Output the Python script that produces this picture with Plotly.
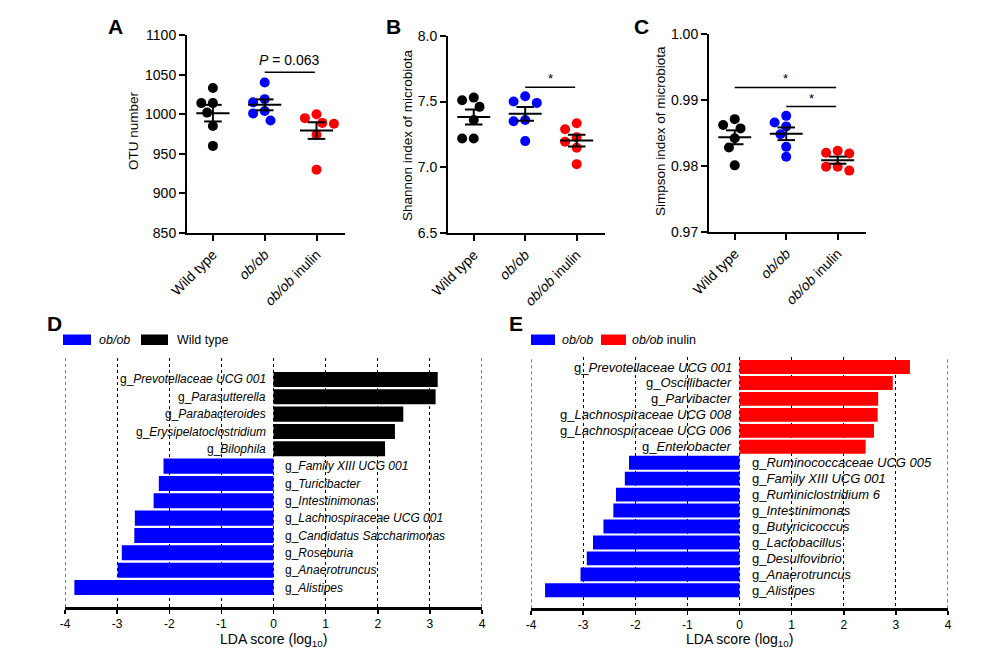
import numpy as np
import plotly.graph_objects as go

W, H = 997, 652
FONT = "Liberation Sans, Arial, sans-serif"

# ---------------- data: panels A-C ----------------
groups = ["Wild type", "<i>ob/ob</i>", "<i>ob/ob</i> inulin"]
group_colors = ["#000000", "#0000FF", "#FF0000"]

otu_wild = [1033, 1014, 1014, 1002, 985, 960]
otu_ob = [1040, 1019, 1015, 1004, 1001, 992]
otu_inulin = [1000, 995, 989, 988, 974, 930]

shannon_wild = [7.53, 7.51, 7.46, 7.36, 7.22, 7.22]
shannon_ob = [7.54, 7.50, 7.49, 7.36, 7.35, 7.20]
shannon_inulin = [7.335, 7.29, 7.23, 7.195, 7.15, 7.025]

simpson_wild = [0.9871, 0.9862, 0.9857, 0.9842, 0.9828, 0.9801]
simpson_ob = [0.9876, 0.9866, 0.9860, 0.9848, 0.9829, 0.9814]
simpson_inulin = [0.9823, 0.9820, 0.9819, 0.9799, 0.9799, 0.9793]

y_titles = ["OTU number", "Shannon index of microbiota", "Simpson index of microbiota"]

# significance brackets
sig_panel = [1, 2, 3, 3]
sig_from = [1, 1, 0, 1]
sig_to = [1.97, 1.97, 1.97, 1.97]
sig_level = [1053, 7.608, 0.9919, 0.9890]
sig_text = ["<i>P</i> = 0.063", "*", "*", "*"]

# ---------------- data: panels D-E ----------------
d_names_wt = ["Prevotellaceae UCG 001", "Parasutterella", "Parabacteroides",
              "Erysipelatoclostridium", "Bilophila"]
d_lda_wt = [3.15, 3.11, 2.49, 2.33, 2.14]
d_names_ob = ["Family XIII UCG 001", "Turicibacter", "Intestinimonas",
              "Lachnospiraceae UCG 001", "Candidatus Saccharimonas", "Roseburia",
              "Anaerotruncus", "Alistipes"]
d_lda_ob = [-2.11, -2.20, -2.30, -2.66, -2.67, -2.91, -2.99, -3.82]

e_names_in = ["Prevotellaceae UCG 001", "Oscillibacter", "Parvibacter",
              "Lachnospiraceae UCG 008", "Lachnospiraceae UCG 006", "Enterobacter"]
e_lda_in = [3.27, 2.94, 2.66, 2.65, 2.58, 2.42]
e_names_ob = ["Ruminococcaceae UCG 005", "Family XIII UCG 001", "Ruminiclostridium 6",
              "Intestinimonas", "Butyricicoccus", "Lactobacillus", "Desulfovibrio",
              "Anaerotruncus", "Alistipes"]
e_lda_ob = [-2.12, -2.20, -2.37, -2.42, -2.61, -2.81, -2.93, -3.05, -3.73]

lda_ticks = [-4, -3, -2, -1, 0, 1, 2, 3, 4]
lda_ticktext = ["-4", "-3", "-2", "-1", "0", "1", "2", "3", "4"]


def px(x):
    return x / W


def py(y):
    return 1 - y / H


def swarm(vals, ypu, xpu, d=9.6, step=5.8):
    """Deterministic beeswarm offsets (category units) from the values."""
    order = sorted(range(len(vals)), key=lambda i: -vals[i])
    placed = []
    offs = [0.0] * len(vals)
    cands = [0.0]
    for k in range(1, 6):
        cands += [-k * step, k * step]
    for i in order:
        y = vals[i] * ypu
        for c in cands:
            if all((c - a) ** 2 + (y - b) ** 2 >= d * d - 1e-6 for a, b in placed):
                break
        placed.append((c, y))
        offs[i] = c / xpu
    return offs


fig = go.Figure()

dot_panels = [
    dict(x=(187, 345), y=(35, 233), rng=(850, 1100), dt=50, fmt="d",
         data=[otu_wild, otu_ob, otu_inulin], title_x=133, title_y=131),
    dict(x=(448, 605), y=(35.7, 233.3), rng=(6.5, 8.0), dt=0.5, fmt=".1f",
         data=[shannon_wild, shannon_ob, shannon_inulin], title_x=407, title_y=135),
    dict(x=(709, 866), y=(34, 232), rng=(0.97, 1.00), dt=0.01, fmt=".2f",
         data=[simpson_wild, simpson_ob, simpson_inulin], title_x=660, title_y=131),
]

annotations = []
shapes = []
layout_axes = {}

for p_i, p in enumerate(dot_panels, start=1):
    xa = "x" if p_i == 1 else f"x{p_i}"
    ya = "y" if p_i == 1 else f"y{p_i}"
    xrange = (-0.5, 2.55)
    xpu = (p["x"][1] - p["x"][0]) / (xrange[1] - xrange[0])
    ypu = (p["y"][1] - p["y"][0]) / (p["rng"][1] - p["rng"][0])
    for g, (vals, col) in enumerate(zip(p["data"], group_colors)):
        offs = swarm(vals, ypu, xpu)
        fig.add_trace(go.Scatter(
            x=[g + o for o in offs], y=vals, mode="markers",
            marker=dict(size=10, color=col, line=dict(width=0)),
            xaxis=xa, yaxis=ya, showlegend=False, hoverinfo="skip"))
    for g, vals in enumerate(p["data"]):
        arr = np.array(vals, dtype=float)
        m = arr.mean()
        s = arr.std(ddof=1) / np.sqrt(len(arr))
        fig.add_trace(go.Scatter(
            x=[g - 0.32, g + 0.32, None, g - 0.17, g + 0.17, None,
               g - 0.17, g + 0.17, None, g, g],
            y=[m, m, None, m + s, m + s, None, m - s, m - s, None, m - s, m + s],
            mode="lines", line=dict(color="black", width=2),
            xaxis=xa, yaxis=ya, showlegend=False, hoverinfo="skip"))
    key_x = "xaxis" if p_i == 1 else f"xaxis{p_i}"
    key_y = "yaxis" if p_i == 1 else f"yaxis{p_i}"
    layout_axes[key_x] = dict(
        domain=[px(p["x"][0]), px(p["x"][1])], range=list(xrange), anchor=ya,
        tickvals=[0, 1, 2], ticktext=groups, tickangle=-45, automargin=False,
        showline=True, linecolor="black", linewidth=2, ticks="outside",
        ticklen=6, tickwidth=2, tickcolor="black", showgrid=False, zeroline=False,
        tickfont=dict(size=14, color="black", family=FONT), fixedrange=True)
    layout_axes[key_y] = dict(
        domain=[py(p["y"][1]), py(p["y"][0])], range=list(p["rng"]), anchor=xa,
        dtick=p["dt"], tick0=p["rng"][0], tickformat=p["fmt"], automargin=False,
        showline=True, linecolor="black", linewidth=2, ticks="outside",
        ticklen=6, tickwidth=2, tickcolor="black", showgrid=False, zeroline=False,
        tickfont=dict(size=14, color="black", family=FONT), fixedrange=True)
    annotations.append(dict(
        text=y_titles[p_i - 1], x=px(p["title_x"]), y=py(p["title_y"]),
        xref="paper", yref="paper", textangle=-90, showarrow=False,
        xanchor="center", yanchor="middle",
        font=dict(size=13.5, color="black", family=FONT)))

# significance bars
for pn, a, b, lvl, txt in zip(sig_panel, sig_from, sig_to, sig_level, sig_text):
    xa = "x" if pn == 1 else f"x{pn}"
    ya = "y" if pn == 1 else f"y{pn}"
    shapes.append(dict(type="line", xref=xa, yref=ya, x0=a, x1=b, y0=lvl, y1=lvl,
                       line=dict(color="black", width=1.5)))
    big = txt != "*"
    annotations.append(dict(
        text=txt, x=(a + b) / 2, y=lvl, xref=xa, yref=ya, showarrow=False,
        xanchor="center", yanchor="bottom", yshift=2 if big else -1,
        font=dict(size=14 if big else 13, color="black", family=FONT)))

# ---------------- LDA panels ----------------
lda_panels = [
    dict(idx=4, x=(65, 482), y=(358, 607), pos_names=d_names_wt, pos_vals=d_lda_wt,
         pos_col="#000000", neg_names=d_names_ob, neg_vals=d_lda_ob, neg_col="#0000FF",
         pad_top=1.24, pad_bot=1.125, fsize=12, lshift=-6, rshift=9, title_y=640),
    dict(idx=5, x=(531, 948), y=(357, 608.3), pos_names=e_names_in, pos_vals=e_lda_in,
         pos_col="#FF0000", neg_names=e_names_ob, neg_vals=e_lda_ob, neg_col="#0000FF",
         pad_top=0.63, pad_bot=1.13, fsize=13, lshift=-6, rshift=10, title_y=640),
]

for p in lda_panels:
    xa = f"x{p['idx']}"
    ya = f"y{p['idx']}"
    cats = p["pos_names"] + p["neg_names"]
    n = len(cats)
    fig.add_trace(go.Bar(x=p["pos_vals"], y=p["pos_names"], orientation="h",
                         marker=dict(color=p["pos_col"], line=dict(width=0)),
                         width=0.87, xaxis=xa, yaxis=ya, showlegend=False,
                         hoverinfo="skip"))
    fig.add_trace(go.Bar(x=p["neg_vals"], y=p["neg_names"], orientation="h",
                         marker=dict(color=p["neg_col"], line=dict(width=0)),
                         width=0.87, xaxis=xa, yaxis=ya, showlegend=False,
                         hoverinfo="skip"))
    for nm in p["pos_names"]:
        annotations.append(dict(text="g_<i>" + nm + "</i>", x=0, y=nm, xref=xa, yref=ya,
                                showarrow=False, xanchor="right", yanchor="middle",
                                xshift=p["lshift"],
                                font=dict(size=p["fsize"], color="black", family=FONT)))
    for nm in p["neg_names"]:
        annotations.append(dict(text="g_<i>" + nm + "</i>", x=0, y=nm, xref=xa, yref=ya,
                                showarrow=False, xanchor="left", yanchor="middle",
                                xshift=p["rshift"],
                                font=dict(size=p["fsize"], color="black", family=FONT)))
    # plotly drops grid lines at the range ends; draw those two as dotted lines
    for edge in (lda_ticks[0], lda_ticks[-1]):
        shapes.append(dict(type="line", xref=xa, yref=f"{ya} domain",
                           x0=edge, x1=edge, y0=0, y1=1, layer="below",
                           line=dict(color="black", width=1, dash="dot")))
    layout_axes[f"xaxis{p['idx']}"] = dict(
        domain=[px(p["x"][0]), px(p["x"][1])], range=[-4, 4], anchor=ya,
        tickvals=lda_ticks, ticktext=lda_ticktext, automargin=False,
        showline=True, linecolor="black", linewidth=2.5, ticks="outside",
        ticklen=4, tickwidth=1.5, tickcolor="black",
        showgrid=True, gridcolor="black", griddash="dot", gridwidth=1,
        zeroline=False, tickfont=dict(size=12, color="black", family=FONT),
        fixedrange=True)
    layout_axes[f"yaxis{p['idx']}"] = dict(
        domain=[py(p["y"][1]), py(p["y"][0])], anchor=xa, automargin=False,
        type="category", categoryorder="array", categoryarray=cats,
        range=[n - 1 + p["pad_bot"], -p["pad_top"]],
        showticklabels=False, showline=False, ticks="", showgrid=False,
        zeroline=False, fixedrange=True)
    annotations.append(dict(
        text="LDA score (log<sub>10</sub>)",
        x=px((p["x"][0] + p["x"][1]) / 2), y=py(p["title_y"]),
        xref="paper", yref="paper", showarrow=False, xanchor="center",
        yanchor="middle", font=dict(size=14, color="black", family=FONT)))

# legends for D and E (swatches + labels)
legend_items = [
    (63, 91, "#0000FF", 97, "<i>ob/ob</i>"),
    (141, 168, "#000000", 175, "Wild type"),
    (531, 555, "#0000FF", 560, "<i>ob/ob</i>"),
    (601, 626, "#FF0000", 630, "<i>ob/ob</i> inulin"),
]
for x0, x1, col, tx, txt in legend_items:
    shapes.append(dict(type="rect", xref="paper", yref="paper",
                       x0=px(x0), x1=px(x1), y0=py(345), y1=py(334.5),
                       fillcolor=col, line=dict(width=0)))
    annotations.append(dict(text=txt, x=px(tx), y=py(340), xref="paper", yref="paper",
                            showarrow=False, xanchor="left", yanchor="middle",
                            font=dict(size=12.5, color="black", family=FONT)))

# panel letters
for letter, lx, ly in [("A", 115, 27), ("B", 393, 27), ("C", 641, 27),
                       ("D", 54, 323), ("E", 516, 323)]:
    annotations.append(dict(text="<b>" + letter + "</b>", x=px(lx), y=py(ly),
                            xref="paper", yref="paper", showarrow=False,
                            xanchor="center", yanchor="middle",
                            font=dict(size=21, color="black", family=FONT)))

fig.update_layout(
    width=W, height=H, margin=dict(l=0, r=0, t=0, b=0, pad=0, autoexpand=False),
    paper_bgcolor="white", plot_bgcolor="white", barmode="overlay",
    font=dict(family=FONT, color="black"),
    annotations=annotations, shapes=shapes, showlegend=False,
    **layout_axes)

fig.write_html(
    "out.html",
    config={"displayModeBar": False, "staticPlot": True},
    post_script="document.body.style.margin='0px';"
                "document.body.style.padding='0px';"
                "document.body.style.overflow='hidden';")
